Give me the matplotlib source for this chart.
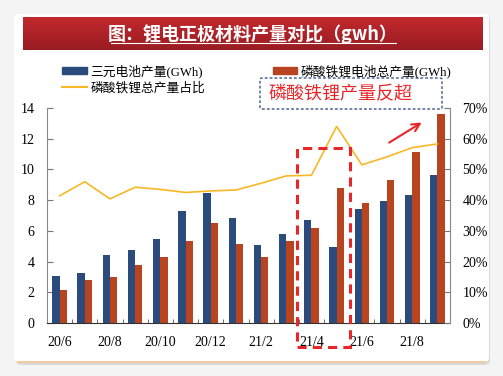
import numpy as np
import matplotlib.pyplot as plt
from matplotlib.patches import FancyBboxPatch, Rectangle, Patch
from matplotlib.lines import Line2D
from matplotlib.ticker import FuncFormatter, MultipleLocator

months = ['20/6', '20/7', '20/8', '20/9', '20/10', '20/11', '20/12', '21/1',
          '21/2', '21/3', '21/4', '21/5', '21/6', '21/7', '21/8', '21/9']
ternary = [3.06, 3.28, 4.41, 4.78, 5.48, 7.31, 8.49, 6.81,
           5.06, 5.77, 6.70, 4.96, 7.42, 7.97, 8.34, 9.64]
lfp = [2.16, 2.77, 2.97, 3.80, 4.32, 5.37, 6.48, 5.17,
       4.31, 5.36, 6.17, 8.78, 7.82, 9.33, 11.15, 13.59]
lfp_share = [0.414, 0.460, 0.404, 0.442, 0.435, 0.425, 0.430, 0.433,
             0.455, 0.479, 0.481, 0.640, 0.515, 0.541, 0.571, 0.583]

c_blue = '#2b4b7d'
c_orange = '#b8451f'
c_line = '#f7b824'
c_red = '#e8262a'
fonts = ['Liberation Serif', 'Noto Sans CJK SC']
plt.rcParams['font.family'] = fonts

W, H = 503, 376
fig = plt.figure(figsize=(W / 100, H / 100), dpi=100, facecolor='#f4f4f4')

# panel with shadow
shadow = FancyBboxPatch((16 / W, 1 - 365 / H), 474 / W, 349 / H,
                        boxstyle='round,pad=0,rounding_size=0.012',
                        transform=fig.transFigure, fc='#d9d9d9', ec='none', zorder=-3)
panel = FancyBboxPatch((14 / W, 1 - 362 / H), 475 / W, 348 / H,
                       boxstyle='round,pad=0,rounding_size=0.012',
                       transform=fig.transFigure, fc='white', ec='none', zorder=-2)
fig.patches.extend([shadow, panel])
fig.add_artist(Line2D([18 / W, 485 / W], [1 - 362 / H, 1 - 362 / H],
                      color='#f3c48f', lw=1.2, transform=fig.transFigure, zorder=-1))

# title banner with gradient
bax = fig.add_axes([23 / W, 1 - 50 / H, 460 / W, 33 / H])
grad = np.linspace(0, 1, 64).reshape(-1, 1)
top = np.array([0.76, 0.16, 0.18])
bot = np.array([0.60, 0.11, 0.13])
img = top[None, None, :] * (1 - grad[:, :, None]) + bot[None, None, :] * grad[:, :, None]
bax.imshow(img, aspect='auto', extent=[0, 1, 0, 1])
bax.set_axis_off()
fig.text(253 / W, 1 - 34 / H, '图：锂电正极材料产量对比（gwh）', color='white',
         fontsize=13, fontweight='bold', ha='center', va='center',
         family=['Noto Sans CJK SC', 'DejaVu Sans'])
fig.add_artist(Line2D([111 / W, 396 / W], [1 - 43 / H, 1 - 43 / H],
                      color='white', lw=0.8, transform=fig.transFigure))

ax = fig.add_axes([47 / W, 1 - 323 / H, 403 / W, 215 / H])
x = np.arange(len(months))
bw = 0.29
ax.bar(x - bw / 2, ternary, bw, color=c_blue, zorder=2)
ax.bar(x + bw / 2, lfp, bw, color=c_orange, zorder=2)
ax.set_xlim(-0.5, len(months) - 0.5)
ax.set_ylim(0, 14)
ax.yaxis.set_major_locator(MultipleLocator(2))
ax.set_xticks(x[::2])
ax.set_xticklabels(months[::2])
ax.set_xticks(np.arange(0.5, len(months) - 0.5, 1), minor=True)
ax.tick_params(axis='x', which='major', length=0, pad=9, labelsize=10)
ax.tick_params(axis='x', which='minor', direction='in', length=3, color='#555555')
ax.tick_params(axis='y', direction='in', length=4, labelsize=10, pad=9, color='#777777')
for s in ['top', 'right']:
    ax.spines[s].set_visible(False)
ax.spines['left'].set_color('#888888')
ax.spines['bottom'].set_color('#333333')
ax.patch.set_alpha(0)

ax2 = ax.twinx()
ax2.plot(x, lfp_share, color=c_line, lw=1.2, zorder=3)
ax2.set_ylim(0, 0.7)
ax2.yaxis.set_major_locator(MultipleLocator(0.1))
ax2.yaxis.set_major_formatter(FuncFormatter(lambda v, p: f'{v * 100:.0f}%'))
ax2.tick_params(axis='y', direction='in', length=4, labelsize=10, pad=9, color='#777777')
for s in ['top', 'left', 'bottom']:
    ax2.spines[s].set_visible(False)
ax2.spines['right'].set_color('#888888')

# highlight box and arrow
ax2.add_patch(Rectangle((9.41, -0.078), 2.11, 0.6475, fill=False, ec=c_red, lw=2.2,
                        ls=(0, (3, 2)), clip_on=False, zorder=5))
ax2.annotate('', xy=(14.47, 0.6575), xytext=(12.99, 0.5825),
             arrowprops=dict(arrowstyle='->', color=c_red, lw=1.5,
                             mutation_scale=14), annotation_clip=False)

# annotation text box
note = FancyBboxPatch((260 / W, 1 - 109 / H), 182 / W, 31 / H,
                      boxstyle='round,pad=0,rounding_size=0.004',
                      transform=fig.transFigure, fc='white', ec='#3b5688',
                      lw=1.0, ls=(0, (2, 1.5)), zorder=6)
fig.add_artist(note)
fig.text(268 / W, 1 - 95 / H, '磷酸铁锂产量反超', color=c_red, fontsize=13,
         ha='left', va='center', zorder=7)

handles = [Patch(color=c_blue), Line2D([], [], color=c_line, lw=1.5), Patch(color=c_orange)]
labels = ['三元电池产量(GWh)', '磷酸铁锂总产量占比', '磷酸铁锂电池总产量(GWh)']
leg = fig.legend(handles, labels, ncol=2, frameon=False, loc='upper left',
                 bbox_to_anchor=(56 / W, 1 - 58 / H), fontsize=9.2,
                 handlelength=1.9, handleheight=0.5, handletextpad=0.3,
                 columnspacing=5.3, labelspacing=0.3, borderpad=0)
leg.set_zorder(8)

fig.savefig('out.png', dpi=100, facecolor=fig.get_facecolor())
